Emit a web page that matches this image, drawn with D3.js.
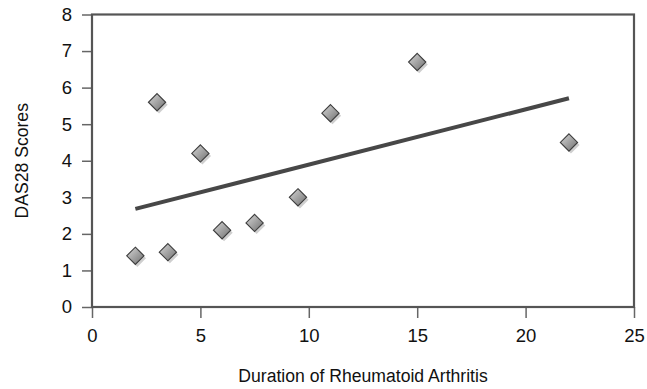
<!DOCTYPE html>
<html>
<head>
<meta charset="utf-8">
<script src="https://cdn.jsdelivr.net/npm/d3@7"></script>
<style>
  html, body { margin: 0; padding: 0; background: #fff; }
  svg { display: block; font-family: "Liberation Sans", Arial, sans-serif; }
</style>
</head>
<body>
<svg id="chart" width="647" height="389"></svg>
<script>
// Disease duration (years) and DAS28 scores per patient
const duration = [2, 3, 3.5, 5, 6, 7.5, 9.5, 11, 15, 22];
const das28 = [1.4, 5.6, 1.5, 4.2, 2.1, 2.3, 3.0, 5.3, 6.7, 4.5];
const xTicks = [0, 5, 10, 15, 20, 25];
const yTicks = [0, 1, 2, 3, 4, 5, 6, 7, 8];

const svg = d3.select("#chart");
const margin = { left: 92, top: 14.5, right: 13, bottom: 82 };
const W = 647, H = 389;

const x = d3.scaleLinear().domain([0, 25]).range([margin.left, W - margin.right]);
const y = d3.scaleLinear().domain([0, 8]).range([H - margin.bottom, margin.top]);

// Diamond gradient
const defs = svg.append("defs");
const grad = defs.append("linearGradient").attr("id", "dg")
  .attr("x1", "0%").attr("y1", "0%").attr("x2", "100%").attr("y2", "100%");
grad.append("stop").attr("offset", "0%").attr("stop-color", "#d8d8d8");
grad.append("stop").attr("offset", "100%").attr("stop-color", "#6e6e6e");

// Least-squares trend line
const mx = d3.mean(duration), my = d3.mean(das28);
const sxy = d3.sum(duration, (d, i) => (d - mx) * (das28[i] - my));
const sxx = d3.sum(duration, d => (d - mx) * (d - mx));
const slope = sxy / sxx, intercept = my - slope * mx;
const [xmin, xmax] = d3.extent(duration);

// Axes with outer ticks
const yAxis = d3.axisLeft(y).tickValues(yTicks).tickSize(10).tickPadding(10);
const xAxis = d3.axisBottom(x).tickValues(xTicks).tickSize(11).tickPadding(11);

const gy = svg.append("g").attr("transform", `translate(${margin.left},0)`).call(yAxis);
const gx = svg.append("g").attr("transform", `translate(0,${H - margin.bottom})`).call(xAxis);
[gx, gy].forEach(g => {
  g.select(".domain").remove();
  g.selectAll(".tick line").attr("stroke", "#666").attr("stroke-width", 1.5);
  g.selectAll(".tick text").attr("fill", "#111").style("font-size", "18.5px")
    .style("font-family", '"Liberation Sans", Arial, sans-serif');
});

// Plot frame
svg.append("rect")
  .attr("x", x(0)).attr("y", y(8))
  .attr("width", x(25) - x(0)).attr("height", y(0) - y(8))
  .attr("fill", "none").attr("stroke", "#555").attr("stroke-width", 2.2);

// Trend line
svg.append("line")
  .attr("x1", x(xmin)).attr("y1", y(intercept + slope * xmin))
  .attr("x2", x(xmax)).attr("y2", y(intercept + slope * xmax))
  .attr("stroke", "#474747").attr("stroke-width", 4);

// Points
const sym = d3.symbol().type(d3.symbolDiamond2).size(190);
const pts = svg.append("g");
pts.selectAll("path.shadow").data(duration).join("path")
  .attr("class", "shadow")
  .attr("d", sym)
  .attr("transform", (d, i) => `translate(${x(d) + 2},${y(das28[i]) + 2.5})`)
  .attr("fill", "#cfcfcf");
pts.selectAll("path.pt").data(duration).join("path")
  .attr("class", "pt")
  .attr("d", sym)
  .attr("transform", (d, i) => `translate(${x(d)},${y(das28[i])})`)
  .attr("fill", "url(#dg)").attr("stroke", "#3c3c3c").attr("stroke-width", 1.1);

// Axis titles
svg.append("text")
  .attr("x", (x(0) + x(25)) / 2).attr("y", 382)
  .attr("text-anchor", "middle").style("font-size", "17.6px").attr("fill", "#111")
  .text("Duration of Rheumatoid Arthritis");
svg.append("text")
  .attr("transform", `translate(28,${(y(0) + y(8)) / 2}) rotate(-90)`)
  .attr("text-anchor", "middle").style("font-size", "17.6px").attr("fill", "#111")
  .text("DAS28 Scores");
</script>
</body>
</html>
